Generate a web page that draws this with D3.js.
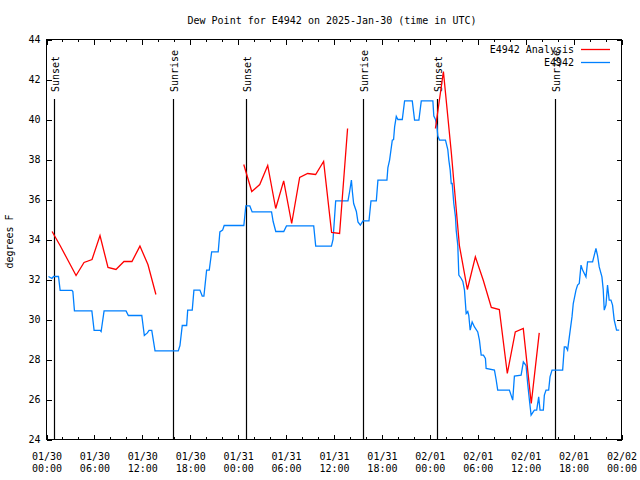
<!DOCTYPE html>
<html>
<head>
<meta charset="utf-8">
<script src="https://cdn.jsdelivr.net/npm/d3@7/dist/d3.min.js"></script>
<style>
  html, body { margin: 0; padding: 0; background: #fff; }
  svg { display: block; }
  text { font-family: "DejaVu Sans Mono", "Liberation Mono", monospace; font-size: 10px; fill: #000; }
</style>
</head>
<body>
<svg id="chart" width="640" height="480"></svg>
<script>
// ---------------- DATA ----------------
const titleText = "Dew Point for E4942 on 2025-Jan-30 (time in UTC)";
const yLabelText = "degrees F";
const seriesNames = ["E4942 Analysis", "E4942"];

// hours since 2025-01-30 00:00 UTC
const xTickHours = [0, 6, 12, 18, 24, 30, 36, 42, 48, 54, 60, 66, 72];
const xTickDates = ["01/30", "01/30", "01/30", "01/30", "01/31", "01/31", "01/31", "01/31", "02/01", "02/01", "02/01", "02/01", "02/02"];
const xTickTimes = ["00:00", "06:00", "12:00", "18:00", "00:00", "06:00", "12:00", "18:00", "00:00", "06:00", "12:00", "18:00", "00:00"];
const xMinorHours = [2, 4, 8, 10, 14, 16, 20, 22, 26, 28, 32, 34, 38, 40, 44, 46, 50, 52, 56, 58, 62, 64, 68, 70];
const yTicks = [24, 26, 28, 30, 32, 34, 36, 38, 40, 42, 44];

const sunEventHours = [1.0, 15.88, 25.0, 39.75, 49.0, 63.75];
const sunEventNames = ["Sunset", "Sunrise", "Sunset", "Sunrise", "Sunset", "Sunrise"];

// Analysis (red), hourly, null = gap
const redHours = [0.7, 1.7, 2.7, 3.7, 4.7, 5.7, 6.7, 7.7, 8.7, 9.7, 10.7, 11.7, 12.7, 13.7, 14.7,
  24.7, 25.7, 26.7, 27.7, 28.7, 29.7, 30.7, 31.7, 32.7, 33.7, 34.7, 35.7, 36.7, 37.7, 38.7,
  48.7, 49.7, 50.7, 51.7, 52.7, 53.7, 54.7, 55.7, 56.7, 57.7, 58.7, 59.7, 60.7, 61.7];
const redValues = [34.4, 33.7, 32.95, 32.2, 32.85, 33.0, 34.2, 32.6, 32.5, 32.9, 32.9, 33.67, 32.75, 31.25, null,
  37.75, 36.4, 36.75, 37.7, 35.55, 36.93, 34.8, 37.1, 37.3, 37.25, 37.9, 34.35, 34.3, 39.55, null,
  39.55, 42.4, 38.3, 33.7, 31.5, 33.13, 31.95, 30.6, 30.5, 27.3, 29.38, 29.55, 25.8, 29.33];

// Observations (blue)
const blueHours = [0.25, 0.68, 0.88, 1.5, 1.71, 3.18, 3.3, 3.5, 5.68, 5.96, 6.71, 6.84, 7.21, 9.96, 10.25, 11.93,
  12.25, 12.63, 12.84, 13.18, 13.59, 16.5, 16.71, 17.0, 17.55, 17.68, 18.25, 18.46, 19.21, 19.5, 19.71,
  20.05, 20.38, 20.68, 21.5, 21.71, 22.05, 22.25, 24.71, 24.96, 25.46, 25.75, 28.18, 28.38, 28.71, 29.71,
  30.05, 33.46, 33.71, 35.68, 35.88, 36.21, 37.75, 37.96, 38.18, 38.3, 38.46, 38.8, 39.0, 39.3, 39.63,
  40.38, 40.63, 41.3, 41.5, 42.63, 42.75, 42.96, 43.3, 43.46, 43.59, 43.8, 44.0, 44.55, 44.84, 45.8,
  46.09, 46.63, 46.93, 48.38, 48.5, 48.71, 48.88, 49.0, 49.21, 49.96, 50.25, 50.38, 50.55, 50.68, 50.8,
  51.0, 51.21, 51.3, 51.5, 51.63, 51.93, 52.13, 52.34, 52.55, 52.75, 52.88, 53.05, 53.3, 53.59, 54.0,
  54.21, 54.43, 54.71, 54.96, 55.05, 56.09, 56.3, 56.5, 57.96, 58.38, 58.59, 59.43, 59.71, 60.05, 60.25,
  60.46, 60.68, 61.09, 61.38, 61.63, 61.8, 62.21, 62.34, 62.55, 62.88, 63.05, 63.3, 64.63, 64.84, 65.05,
  65.25, 65.55, 65.8, 65.96, 66.3, 66.5, 66.71, 66.93, 67.13, 67.55, 67.75, 68.38, 68.8, 69.0, 69.21,
  69.55, 69.71, 69.84, 70.05, 70.25, 70.46, 70.68, 70.88, 71.09, 71.38, 71.71];
const blueValues = [32.15, 32.05, 32.15, 32.15, 31.46, 31.46, 31.4, 30.43, 30.43, 29.46, 29.46, 29.4, 30.43, 30.43, 30.2, 30.2,
  29.2, 29.33, 29.46, 29.46, 28.43, 28.43, 28.7, 29.7, 29.7, 30.47, 30.47, 31.47, 31.47, 31.17, 31.17,
  32.47, 32.47, 33.38, 33.38, 34.38, 34.47, 34.7, 34.7, 35.68, 35.68, 35.38, 35.38, 34.9, 34.4, 34.4,
  34.68, 34.68, 33.67, 33.67, 34.0, 35.93, 35.93, 36.4, 36.97, 36.4, 35.8, 35.4, 34.88, 34.72, 34.93,
  34.93, 35.93, 35.93, 36.97, 36.97, 37.6, 37.97, 38.97, 39.0, 39.63, 40.16, 40.0, 40.0, 40.93, 40.93,
  39.97, 39.97, 40.93, 40.93, 40.17, 40.0, 39.7, 39.17, 38.97, 38.97, 38.5, 37.97, 37.47, 36.8, 36.8,
  35.8, 35.13, 34.47, 33.72, 32.22, 32.05, 31.9, 31.47, 30.3, 30.4, 30.2, 29.47, 29.88, 29.63, 29.38,
  28.97, 28.22, 28.22, 28.05, 27.55, 27.47, 27.0, 26.47, 26.47, 25.97, 27.17, 27.22, 27.88, 27.7, 26.8,
  26.0, 25.22, 25.47, 25.47, 26.13, 25.47, 25.47, 26.22, 26.47, 26.47, 27.13, 27.47, 27.47, 28.63, 28.63,
  28.47, 29.38, 30.13, 30.8, 31.47, 31.72, 31.8, 32.72, 32.47, 32.13, 32.88, 32.88, 33.55, 33.2, 32.63,
  32.13, 31.5, 30.47, 30.72, 31.72, 30.97, 30.97, 30.72, 29.97, 29.47, 29.47];

// ---------------- CHART ----------------
const svg = d3.select("#chart");
const L = 46.5, R = 621.5, T = 39.5, B = 439.5;

const x = d3.scaleLinear().domain([0, 72]).range([L, R]);
const y = d3.scaleLinear().domain([24, 44]).range([B, T]);

const red = "#ff0000", blue = "#0080ff";

// title
svg.append("text").attr("x", 332).attr("y", 24).attr("text-anchor", "middle").text(titleText);

// y label
svg.append("text").attr("transform", "translate(13,241.5) rotate(-90)")
  .attr("text-anchor", "middle").text(yLabelText);

// sunrise / sunset lines
const sun = svg.append("g");
sunEventHours.forEach((h, i) => {
  const sx = Math.round(x(h) - 0.5) + 0.5;
  sun.append("line").attr("x1", sx).attr("x2", sx).attr("y1", 99).attr("y2", B)
    .attr("stroke", "#000").attr("stroke-width", 1.2);
  sun.append("text").attr("transform", `translate(${sx + 4.5},92) rotate(-90)`)
    .attr("text-anchor", "start").text(sunEventNames[i]);
});

// axes (inward ticks, mirrored)
function styleAxis(g) {
  g.select(".domain").remove();
  g.selectAll(".tick line").attr("stroke", "#000").attr("shape-rendering", "crispEdges");
  g.selectAll("text").style("font-family", "DejaVu Sans Mono, monospace").style("font-size", "10px").attr("fill", "#000");
}

const xAxis = svg.append("g").attr("transform", `translate(0,${B})`)
  .call(d3.axisBottom(x).tickValues(xTickHours).tickSize(-5).tickPadding(0)
    .tickFormat((d, i) => xTickDates[i]))
  .call(styleAxis);
xAxis.selectAll(".tick text").each(function(d, i) {
  const t = d3.select(this);
  t.text(null).attr("dy", null).attr("y", 0);
  t.append("tspan").attr("x", 0).attr("y", 20).text(xTickDates[i]);
  t.append("tspan").attr("x", 0).attr("y", 32).text(xTickTimes[i]);
});
svg.append("g").attr("transform", `translate(0,${B})`)
  .call(d3.axisBottom(x).tickValues(xMinorHours).tickSize(-2.5).tickFormat(""))
  .call(styleAxis);
svg.append("g").attr("transform", `translate(0,${T})`)
  .call(d3.axisTop(x).tickValues(xTickHours).tickSize(-5).tickFormat(""))
  .call(styleAxis);
svg.append("g").attr("transform", `translate(0,${T})`)
  .call(d3.axisTop(x).tickValues(xMinorHours).tickSize(-2.5).tickFormat(""))
  .call(styleAxis);

svg.append("g").attr("transform", `translate(${L},0)`)
  .call(d3.axisLeft(y).tickValues(yTicks).tickSize(-5).tickPadding(6).tickFormat(d3.format("d")))
  .call(styleAxis);
svg.append("g").attr("transform", `translate(${R},0)`)
  .call(d3.axisRight(y).tickValues(yTicks).tickSize(-5).tickFormat(""))
  .call(styleAxis);

// frame
svg.append("rect").attr("x", L).attr("y", T).attr("width", R - L).attr("height", B - T)
  .attr("fill", "none").attr("stroke", "#000").attr("shape-rendering", "crispEdges");

// data lines
const redData = redHours.map((h, i) => ({ h, v: redValues[i] }));
const blueData = blueHours.map((h, i) => ({ h, v: blueValues[i] }));
const line = d3.line().defined(d => d.v !== null).x(d => x(d.h)).y(d => y(d.v));

svg.append("path").datum(blueData).attr("d", line)
  .attr("fill", "none").attr("stroke", blue).attr("stroke-width", 1.3).attr("stroke-linejoin", "miter");
svg.append("path").datum(redData).attr("d", line)
  .attr("fill", "none").attr("stroke", red).attr("stroke-width", 1.3);

// legend
const legendColors = [red, blue];
seriesNames.forEach((name, i) => {
  const ly = 49.5 + i * 13;
  svg.append("text").attr("x", 574).attr("y", ly + 3.5).attr("text-anchor", "end").text(name);
  svg.append("line").attr("x1", 581).attr("x2", 610).attr("y1", ly).attr("y2", ly)
    .attr("stroke", legendColors[i]).attr("stroke-width", 1.3);
});
</script>
</body>
</html>
